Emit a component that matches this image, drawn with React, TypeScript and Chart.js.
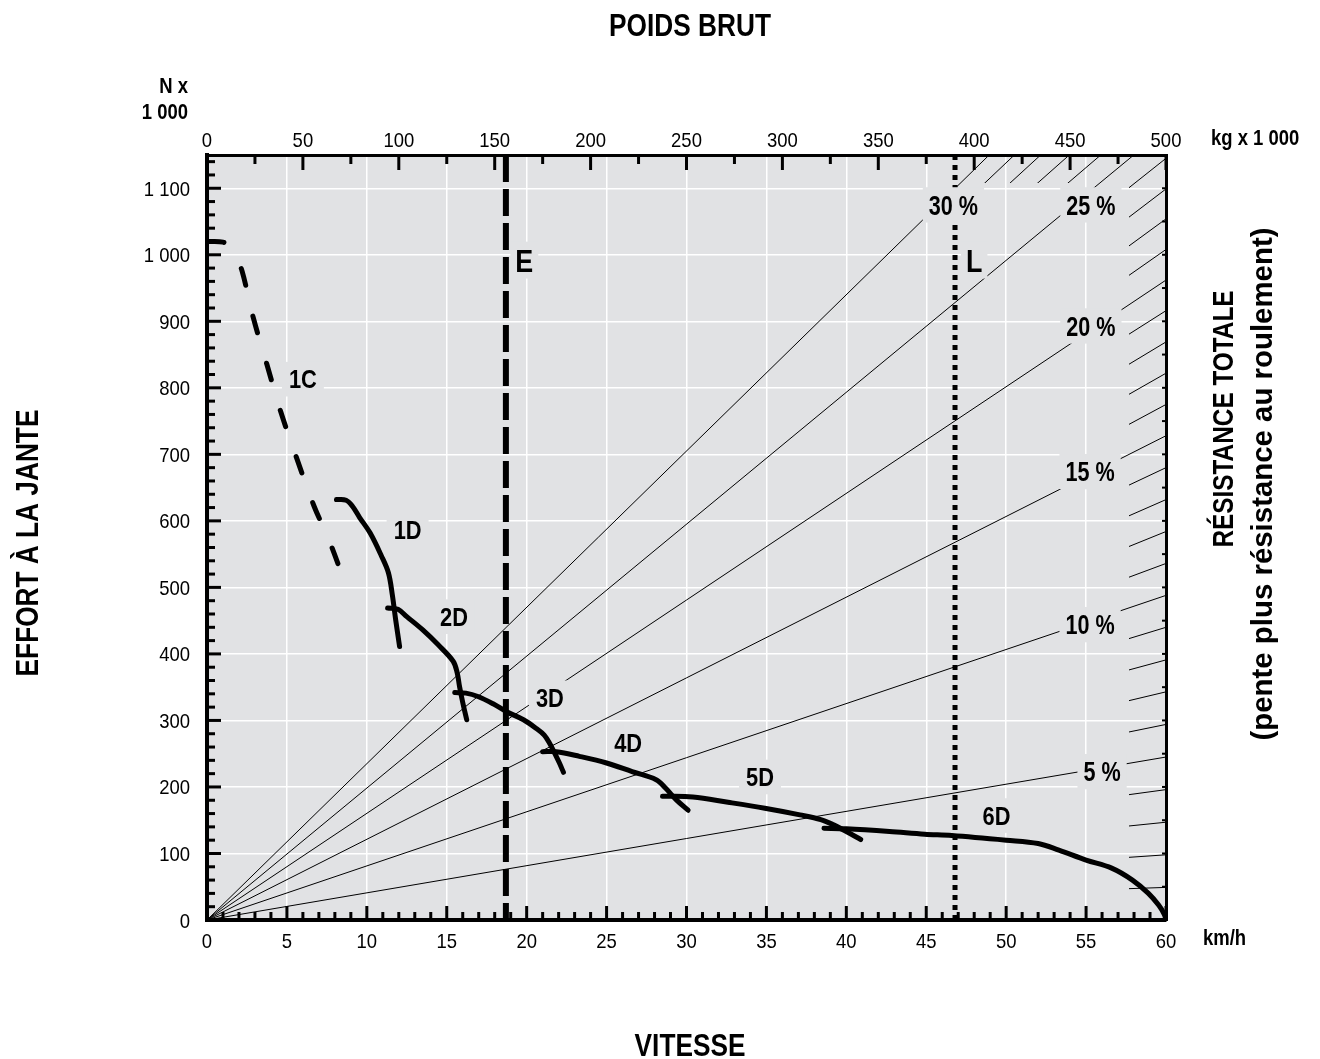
import React, { useEffect, useRef } from 'react';
import { Chart, registerables } from 'chart.js';

Chart.register(...registerables);

const W = 1320;
const H = 1059;
const SANS = '"Liberation Sans", Arial, sans-serif';
const PLOT_BG = '#e1e2e4';

// ---- axes ----
const SPEED_MAX = 60;
const WEIGHT_MAX = 500;
const FORCE_MAX = 1150;
const speedTicks = [0, 5, 10, 15, 20, 25, 30, 35, 40, 45, 50, 55, 60];
const speedTickLabels = ['0', '5', '10', '15', '20', '25', '30', '35', '40', '45', '50', '55', '60'];
const weightTicks = [0, 50, 100, 150, 200, 250, 300, 350, 400, 450, 500];
const weightTickLabels = ['0', '50', '100', '150', '200', '250', '300', '350', '400', '450', '500'];
const forceTicks = [0, 100, 200, 300, 400, 500, 600, 700, 800, 900, 1000, 1100];
const forceTickLabels = ['0', '100', '200', '300', '400', '500', '600', '700', '800', '900', '1 000', '1 100'];

// ---- rimpull curves: [km/h, N x 1000] ----
const gear1C: number[][] = [[0, 1020], [1.0, 1019], [1.4, 1012], [1.8, 998], [2.2, 975], [2.9, 905], [3.75, 835], [4.6, 765], [5.6, 695], [6.7, 622], [7.6, 573], [8.45, 519]];
const gear1D: number[][] = [[8.1, 632], [8.7, 631], [9.1, 622], [9.55, 605], [10.2, 582], [10.9, 548], [11.35, 522], [11.6, 488], [11.8, 452], [12.05, 411]];
const gear2D: number[][] = [[11.3, 469], [11.95, 467], [12.5, 456], [13.5, 436], [14.45, 414], [15.4, 389], [15.65, 372], [15.8, 351], [16.0, 327], [16.25, 301]];
const gear3D: number[][] = [[15.5, 342], [16.2, 341], [16.95, 336], [17.9, 325], [18.75, 313], [19.8, 301], [20.6, 288], [21.1, 278], [21.45, 265], [21.75, 251], [22.05, 236], [22.3, 222]];
const gear4D: number[][] = [[21.0, 253], [21.85, 253], [23.3, 246], [25.0, 236], [26.6, 223], [28.1, 211], [28.7, 198], [29.35, 181], [30.1, 165]];
const gear5D: number[][] = [[28.5, 186], [30.4, 185], [32.6, 177], [34.9, 168], [37.1, 158], [38.4, 151], [39.2, 143], [40.0, 133], [40.9, 121]];
const gear6D: number[][] = [[38.6, 138], [40.0, 137], [42.7, 133], [44.9, 129], [46.6, 127], [50.0, 120], [52.0, 115], [53.3, 105], [55.0, 90], [56.6, 78], [57.9, 60], [58.9, 40], [59.55, 22], [59.9, 8], [60, 0]];

const curveNames = ['1C', '1D', '2D', '3D', '4D', '5D', '6D'];
const curveData = [gear1C, gear1D, gear2D, gear3D, gear4D, gear5D, gear6D];
const curveDashed = [true, false, false, false, false, false, false];

// ---- total resistance (grade) lines: force at 500 t gross weight ----
const gradePercents = [1, 2, 3, 4, 5, 6, 7, 8, 9, 10, 11, 12, 13, 14, 15, 16, 17, 18, 19, 20, 21, 22, 23, 24, 25, 26, 27, 28, 29, 30];
const gradeForceAt500t = [49, 98, 147, 196, 245, 294, 343, 391, 440, 488, 536, 584, 632, 680, 728, 775, 822, 869, 916, 962, 1008, 1054, 1099, 1145, 1190, 1234, 1279, 1323, 1366, 1410];
const labeledGrades = [5, 10, 15, 20, 25, 30];

// ---- vertical markers (km/h) ----
const markerE = 18.7;
const markerL = 46.8;

// ---- annotation labels (data coordinates) ----
const curveLabelSpeed = [6.0, 12.55, 15.45, 21.45, 26.35, 34.6, 49.4];
const curveLabelForce = [813, 587, 456, 334, 266, 215, 157];
const gradeLabelText = ['30 %', '25 %', '20 %', '15 %', '10 %', '5 %'];
const gradeLabelSpeed = [46.7, 55.3, 55.3, 55.25, 55.25, 56.0];
const gradeLabelForce = [1075, 1075, 893, 674, 444, 223];
const markerLabelText = ['E', 'L'];
const markerLabelSpeed = [19.85, 48.0];
const markerLabelForce = [992, 992];

type TextOpts = { size: number; bold?: boolean; sx?: number; align?: 'left' | 'center' | 'right'; rot?: number };

// draws text with its cap-height centred on y, horizontally condensed by sx
function drawText(ctx: CanvasRenderingContext2D, text: string, x: number, y: number, o: TextOpts) {
  const sx = o.sx ?? 0.84;
  ctx.save();
  ctx.translate(x, y);
  if (o.rot) ctx.rotate(o.rot);
  ctx.scale(sx, 1);
  ctx.font = `${o.bold ? 'bold ' : ''}${o.size}px ${SANS}`;
  ctx.textAlign = o.align ?? 'center';
  ctx.textBaseline = 'alphabetic';
  ctx.fillStyle = '#000';
  ctx.fillText(text, 0, o.size * 0.716 / 2);
  ctx.restore();
}

function drawBoxLabel(ctx: CanvasRenderingContext2D, text: string, cx: number, cy: number, size: number, sx: number, padX: number, padY: number) {
  ctx.save();
  ctx.font = `bold ${size}px ${SANS}`;
  const w = ctx.measureText(text).width * sx;
  const cap = size * 0.716;
  ctx.fillStyle = PLOT_BG;
  ctx.fillRect(cx - w / 2 - padX, cy - cap / 2 - padY, w + 2 * padX, cap + 2 * padY);
  ctx.restore();
  drawText(ctx, text, cx, cy, { size, bold: true, sx });
}

function drawAnnotations(chart: any) {
  const ctx: CanvasRenderingContext2D = chart.ctx;
  const x = chart.scales.x;
  const y = chart.scales.y;
  curveNames.forEach((n, i) => {
    drawBoxLabel(ctx, n, x.getPixelForValue(curveLabelSpeed[i]), y.getPixelForValue(curveLabelForce[i]), 26, 0.84, 7, 8);
  });
  gradeLabelText.forEach((t, i) => {
    drawBoxLabel(ctx, t, x.getPixelForValue(gradeLabelSpeed[i]), y.getPixelForValue(gradeLabelForce[i]), 27, 0.8, 6, 8);
  });
  markerLabelText.forEach((t, i) => {
    drawBoxLabel(ctx, t, x.getPixelForValue(markerLabelSpeed[i]), y.getPixelForValue(markerLabelForce[i]), 32, 0.84, 5, 7);
  });
}

const decorPlugin = {
  id: 'decor',
  beforeDraw(chart: any) {
    const { ctx, chartArea: a } = chart;
    ctx.save();
    ctx.fillStyle = '#ffffff';
    ctx.fillRect(0, 0, chart.width, chart.height);
    ctx.fillStyle = PLOT_BG;
    ctx.fillRect(a.left, a.top, a.right - a.left, a.bottom - a.top);
    ctx.restore();
  },
  beforeDatasetsDraw(chart: any) {
    const { ctx, chartArea: a, scales } = chart;
    const xT = scales.xTop;
    const y = scales.y;
    ctx.save();
    ctx.beginPath();
    ctx.rect(a.right - 37, a.top, 37, a.bottom - a.top);
    ctx.rect(a.left, a.top, a.right - a.left, 28);
    ctx.clip();
    ctx.strokeStyle = '#000';
    ctx.lineWidth = 1;
    gradePercents.forEach((g, i) => {
      if (labeledGrades.includes(g)) return;
      ctx.beginPath();
      ctx.moveTo(xT.getPixelForValue(0), y.getPixelForValue(0));
      ctx.lineTo(xT.getPixelForValue(WEIGHT_MAX), y.getPixelForValue(gradeForceAt500t[i]));
      ctx.stroke();
    });
    ctx.restore();
    chart.$annotDone = false;
  },
  beforeDatasetDraw(chart: any, args: any) {
    const ds = chart.data.datasets[args.index];
    if (ds.isCurve && !chart.$annotDone) {
      drawAnnotations(chart);
      chart.$annotDone = true;
    }
  },
  afterDatasetsDraw(chart: any) {
    const { ctx, chartArea: a, scales } = chart;
    const x = scales.x;
    const xT = scales.xTop;
    const y = scales.y;
    if (!chart.$annotDone) {
      drawAnnotations(chart);
      chart.$annotDone = true;
    }
    ctx.save();
    ctx.strokeStyle = '#000';
    ctx.lineCap = 'butt';
    const seg = (x1: number, y1: number, x2: number, y2: number) => {
      ctx.beginPath();
      ctx.moveTo(x1, y1);
      ctx.lineTo(x2, y2);
      ctx.stroke();
    };
    ctx.lineWidth = 3;
    for (let f = 0; f <= 1140; f += 20) {
      const py = y.getPixelForValue(f);
      seg(a.left, py, a.left + (f % 100 === 0 ? 14 : 8), py);
    }
    for (let s = 0; s <= SPEED_MAX; s += 1) {
      const px = x.getPixelForValue(s);
      seg(px, a.bottom, px, a.bottom - (s % 5 === 0 ? 14 : 8));
    }
    for (let w = 0; w <= WEIGHT_MAX; w += 25) {
      const px = xT.getPixelForValue(w);
      seg(px, a.top, px, a.top + (w % 50 === 0 ? 15 : 9));
    }
    ctx.lineWidth = 2;
    for (let f = 0; f <= FORCE_MAX; f += 50) {
      const py = y.getPixelForValue(f);
      seg(a.right, py, a.right - 4, py);
    }
    ctx.restore();
  },
  afterDraw(chart: any) {
    const ctx: CanvasRenderingContext2D = chart.ctx;
    const { chartArea: a, scales } = chart;
    // tick labels
    const tick = { size: 21, sx: 0.88 };
    speedTicks.forEach((v, i) => drawText(ctx, speedTickLabels[i], scales.x.getPixelForValue(v), a.bottom + 20, tick));
    weightTicks.forEach((v, i) => drawText(ctx, weightTickLabels[i], scales.xTop.getPixelForValue(v), a.top - 16, tick));
    forceTicks.forEach((v, i) => drawText(ctx, forceTickLabels[i], a.left - 17, scales.y.getPixelForValue(v), { ...tick, align: 'right' }));
    // titles
    const big = { size: 32, bold: true, sx: 0.82 };
    drawText(ctx, 'POIDS BRUT', 690, 25, big);
    drawText(ctx, 'VITESSE', 690, 1045, big);
    drawText(ctx, 'EFFORT À LA JANTE', 27, 543, { ...big, rot: -Math.PI / 2 });
    drawText(ctx, 'RÉSISTANCE TOTALE', 1223, 419, { size: 29, bold: true, sx: 0.84, rot: -Math.PI / 2 });
    drawText(ctx, '(pente plus résistance au roulement)', 1261, 484, { size: 30, bold: true, sx: 0.98, rot: -Math.PI / 2 });
    const small = { size: 22, bold: true, sx: 0.84 };
    drawText(ctx, 'N x', 188, 85, { ...small, align: 'right' });
    drawText(ctx, '1 000', 188, 111, { ...small, align: 'right' });
    drawText(ctx, 'kg x 1 000', 1211, 137, { ...small, align: 'left' });
    drawText(ctx, 'km/h', 1203, 937, { ...small, align: 'left' });
  },
};

function buildDatasets() {
  const ds: any[] = [];
  labeledGrades.forEach((g) => {
    const i = gradePercents.indexOf(g);
    ds.push({
      label: `${g} %`,
      data: [{ x: 0, y: 0 }, { x: WEIGHT_MAX, y: gradeForceAt500t[i] }],
      xAxisID: 'xTop',
      yAxisID: 'y',
      showLine: true,
      borderColor: '#000',
      borderWidth: 1,
      pointRadius: 0,
      order: 3,
    });
  });
  ds.push({
    label: 'E',
    data: [{ x: markerE, y: FORCE_MAX }, { x: markerE, y: 0 }],
    xAxisID: 'x',
    yAxisID: 'y',
    showLine: true,
    borderColor: '#000',
    borderWidth: 6,
    borderDash: [27, 7],
    borderCapStyle: 'butt',
    pointRadius: 0,
    order: 2,
  });
  ds.push({
    label: 'L',
    data: [{ x: markerL, y: FORCE_MAX }, { x: markerL, y: 0 }],
    xAxisID: 'x',
    yAxisID: 'y',
    showLine: true,
    borderColor: '#000',
    borderWidth: 5,
    borderDash: [5, 5],
    borderCapStyle: 'butt',
    pointRadius: 0,
    order: 2,
  });
  curveNames.forEach((n, i) => {
    ds.push({
      label: n,
      isCurve: true,
      data: curveData[i].map((p) => ({ x: p[0], y: p[1] })),
      xAxisID: 'x',
      yAxisID: 'y',
      showLine: true,
      borderColor: '#000',
      borderWidth: 5,
      borderDash: curveDashed[i] ? [17, 32] : [],
      borderCapStyle: 'round',
      borderJoinStyle: 'round',
      tension: 0.35,
      pointRadius: 0,
      order: 1,
    });
  });
  return ds;
}

export default function App() {
  const ref = useRef<HTMLCanvasElement | null>(null);
  useEffect(() => {
    if (!ref.current) return;
    const chart = new Chart(ref.current, {
      type: 'scatter',
      data: { datasets: buildDatasets() },
      options: {
        responsive: false,
        maintainAspectRatio: false,
        animation: false,
        layout: { padding: 0 },
        plugins: { legend: { display: false }, tooltip: { enabled: false }, title: { display: false } },
        scales: {
          x: {
            type: 'linear',
            position: 'bottom',
            min: 0,
            max: SPEED_MAX,
            afterBuildTicks: (s: any) => { s.ticks = speedTicks.map((v) => ({ value: v })); },
            afterFit: (s: any) => { s.height = H - 920; },
            ticks: { display: false },
            grid: { color: '#ffffff', lineWidth: 1.5, drawTicks: false },
            border: { display: true, color: '#000', width: 4 },
          },
          xTop: {
            type: 'linear',
            position: 'top',
            min: 0,
            max: WEIGHT_MAX,
            afterBuildTicks: (s: any) => { s.ticks = weightTicks.map((v) => ({ value: v })); },
            afterFit: (s: any) => { s.height = 155; },
            ticks: { display: false },
            grid: { drawOnChartArea: false, drawTicks: false },
            border: { display: true, color: '#000', width: 3 },
          },
          y: {
            type: 'linear',
            position: 'left',
            min: 0,
            max: FORCE_MAX,
            afterBuildTicks: (s: any) => { s.ticks = forceTicks.map((v) => ({ value: v })); },
            afterFit: (s: any) => { s.width = 207; },
            ticks: { display: false },
            grid: { color: '#ffffff', lineWidth: 1.5, drawTicks: false },
            border: { display: true, color: '#000', width: 4 },
          },
          yRight: {
            type: 'linear',
            position: 'right',
            min: 0,
            max: FORCE_MAX,
            afterFit: (s: any) => { s.width = W - 1166; },
            ticks: { display: false },
            grid: { drawOnChartArea: false, drawTicks: false },
            border: { display: true, color: '#000', width: 3 },
          },
        },
      } as any,
      plugins: [decorPlugin as any],
    });
    return () => chart.destroy();
  }, []);
  return (
    <canvas
      ref={ref}
      width={W}
      height={H}
      style={{ position: 'absolute', left: 0, top: 0, width: W, height: H, display: 'block' }}
    />
  );
}
